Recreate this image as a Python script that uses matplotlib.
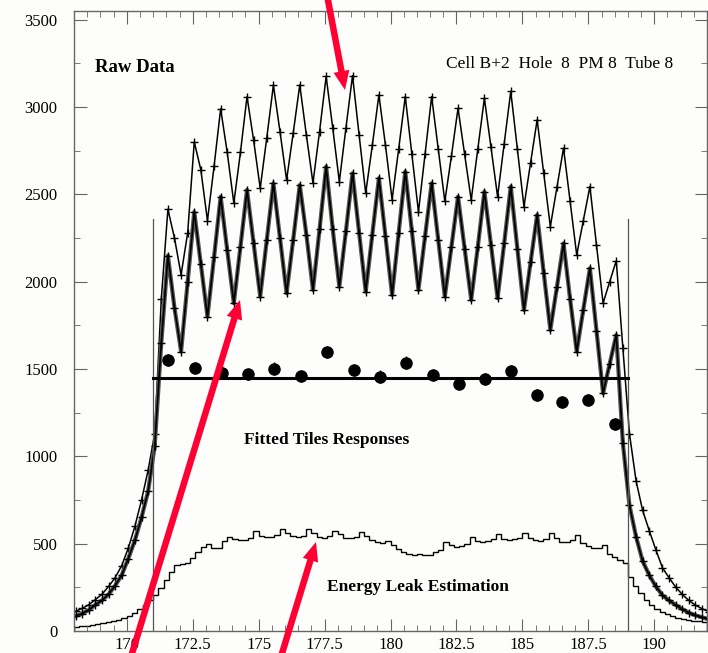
import numpy as np
import matplotlib
matplotlib.use("Agg")
import matplotlib.pyplot as plt
from matplotlib.patches import FancyArrow
from matplotlib.transforms import IdentityTransform
from matplotlib.ticker import MultipleLocator

# raw data scans, sampled every 0.25 starting at 168.06
scan_start = 168.06
scan_step = 0.25
upper_scan = [
    112, 130, 150, 180, 210, 255, 305, 375, 475, 600, 750, 920,
    1130, 1900, 2415, 2250, 2040, 2280, 2800, 2640, 2350, 2660, 2990, 2740,
    2450, 2740, 3060, 2810, 2535, 2825, 3125, 2860, 2583, 2850, 3127, 2840,
    2565, 2860, 3175, 2880, 2573, 2880, 3180, 2840, 2507, 2780, 3070, 2780,
    2470, 2760, 3060, 2730, 2400, 2730, 3060, 2760, 2460, 2720, 2993, 2730,
    2468, 2760, 3050, 2770, 2487, 2790, 3090, 2760, 2430, 2680, 2927, 2620,
    2316, 2540, 2765, 2460, 2153, 2350, 2545, 2210, 1877, 2000, 2120, 1620,
    1130, 860, 690, 575, 465, 362, 305, 252, 210, 175, 148, 128, 111,
]
lower_scan = [
    85, 100, 120, 150, 175, 210, 260, 320, 415, 520, 650, 800,
    1060, 1650, 2150, 1850, 1600, 2000, 2400, 2100, 1800, 2140, 2487, 2180,
    1877, 2200, 2526, 2220, 1915, 2240, 2564, 2250, 1934, 2240, 2554, 2270,
    1953, 2300, 2659, 2300, 1972, 2290, 2621, 2280, 1943, 2270, 2593, 2260,
    1924, 2280, 2631, 2290, 1953, 2260, 2564, 2240, 1915, 2200, 2487, 2190,
    1896, 2200, 2516, 2210, 1905, 2220, 2545, 2190, 1838, 2110, 2383, 2050,
    1724, 1970, 2220, 1900, 1600, 1840, 2077, 1720, 1361, 1530, 1695, 1075,
    720, 540, 400, 320, 255, 205, 175, 150, 125, 105, 90, 78, 68,
]

# energy leak histogram, bins of 0.2 from 168 to 192
leak_lo, leak_hi = 168.0, 192.0
leak_hist = [
    25, 28, 31, 35, 39, 44, 49, 55, 62, 72,
    85, 102, 125, 150, 178, 205, 245, 290, 335, 378,
    382, 390, 420, 455, 483, 500, 474, 476, 515, 540,
    527, 521, 522, 535, 573, 545, 540, 541, 548, 584,
    560, 544, 540, 545, 582, 560, 540, 535, 545, 575,
    555, 533, 530, 540, 568, 545, 520, 510, 505, 515,
    490, 470, 450, 440, 437, 440, 435, 435, 450, 465,
    512, 495, 483, 488, 500, 537, 515, 512, 515, 525,
    554, 528, 521, 525, 535, 563, 530, 521, 518, 525,
    559, 530, 512, 510, 520, 550, 505, 485, 478, 475,
    491, 440, 425, 405, 390, 311, 260, 217, 180, 149,
    125, 108, 95, 84, 76, 70, 64, 60, 56, 52,
]

# fitted tile responses
tile_x = [171.55, 172.6, 173.6, 174.6, 175.6, 176.6, 177.6, 178.6, 179.6,
          180.6, 181.6, 182.6, 183.6, 184.55, 185.55, 186.5, 187.5, 188.5]
tile_y = [1552, 1508, 1480, 1470, 1503, 1461, 1596, 1495, 1457,
          1537, 1466, 1413, 1441, 1489, 1350, 1312, 1321, 1187]
tile_err = 35
mean_resp = 1450
cell_edges = [171.0, 189.0]
edge_height = 2360

plt.rcParams["font.family"] = ["Liberation Serif", "DejaVu Serif"]

fig = plt.figure(figsize=(7.08, 6.53), dpi=100)
fig.patch.set_facecolor("#fdfdfb")
ax = fig.add_axes([74 / 708, 22 / 653, 633 / 708, 620 / 653])
ax.set_facecolor("#fdfdfb")

x_scan = scan_start + scan_step * np.arange(len(upper_scan))
leak_edges = np.linspace(leak_lo, leak_hi, len(leak_hist) + 1)

ax.plot(x_scan, upper_scan, color="black", lw=1.1, marker="+", ms=5.5, mew=1)
# second (overlapping) readout drawn as a thick grey band under the black one
ax.plot(x_scan, lower_scan, color="#555555", lw=3.0)
ax.plot(x_scan, lower_scan, color="black", lw=1.2, marker="+", ms=5.5, mew=1)
ax.stairs(leak_hist, leak_edges, color="black", lw=1.0)

for xe in cell_edges:
    ax.plot([xe, xe], [0, edge_height], color="#555555", lw=0.9)
ax.plot(cell_edges, [mean_resp, mean_resp], color="black", lw=2.2)
ax.errorbar(tile_x, tile_y, yerr=tile_err, fmt="o", color="black", ms=8, elinewidth=1, capsize=0)

ax.set_xlim(168, 192)
ax.set_ylim(0, 3550)
ax.xaxis.set_major_locator(MultipleLocator(2.5))
ax.xaxis.set_minor_locator(MultipleLocator(0.5))
ax.yaxis.set_major_locator(MultipleLocator(500))
ax.yaxis.set_minor_locator(MultipleLocator(250))
ax.set_xticks([170, 172.5, 175, 177.5, 180, 182.5, 185, 187.5, 190])
ax.set_xticklabels(["170", "172.5", "175", "177.5", "180", "182.5", "185", "187.5", "190"])
ax.tick_params(which="both", direction="in", top=True, right=True, color="#666666", labelsize=12)
ax.tick_params(which="major", length=9)
ax.tick_params(which="minor", length=4.5)
ax.tick_params(axis="y", pad=12)
ax.tick_params(axis="x", pad=4)
for s in ax.spines.values():
    s.set_color("#666666")
    s.set_linewidth(1)

ax.text(168.8, 3224, "Raw Data", fontsize=13.5, fontweight="bold", va="center")
ax.text(182.1, 3247, "Cell B+2  Hole  8  PM 8  Tube 8", fontsize=12.5, va="center")
ax.text(174.43, 1094, "Fitted Tiles Responses", fontsize=12.5, fontweight="bold", va="center")
ax.text(177.58, 252, "Energy Leak Estimation", fontsize=12.5, fontweight="bold", va="center")

# red annotation arrows (figure pixels, y from bottom)
H = 653
arrows = [((327, H + 5), (345, H - 90)),
          ((130, H - 660), (240, H - 300)),
          ((280, H - 660), (316, H - 542))]
for (x0, y0), (x1, y1) in arrows:
    fig.add_artist(FancyArrow(x0, y0, x1 - x0, y1 - y0, width=6.5, head_width=16, head_length=19,
                              length_includes_head=True, color="#ff0033", lw=0,
                              transform=IdentityTransform(), zorder=10))

fig.savefig("out.png", dpi=100, facecolor=fig.get_facecolor())
